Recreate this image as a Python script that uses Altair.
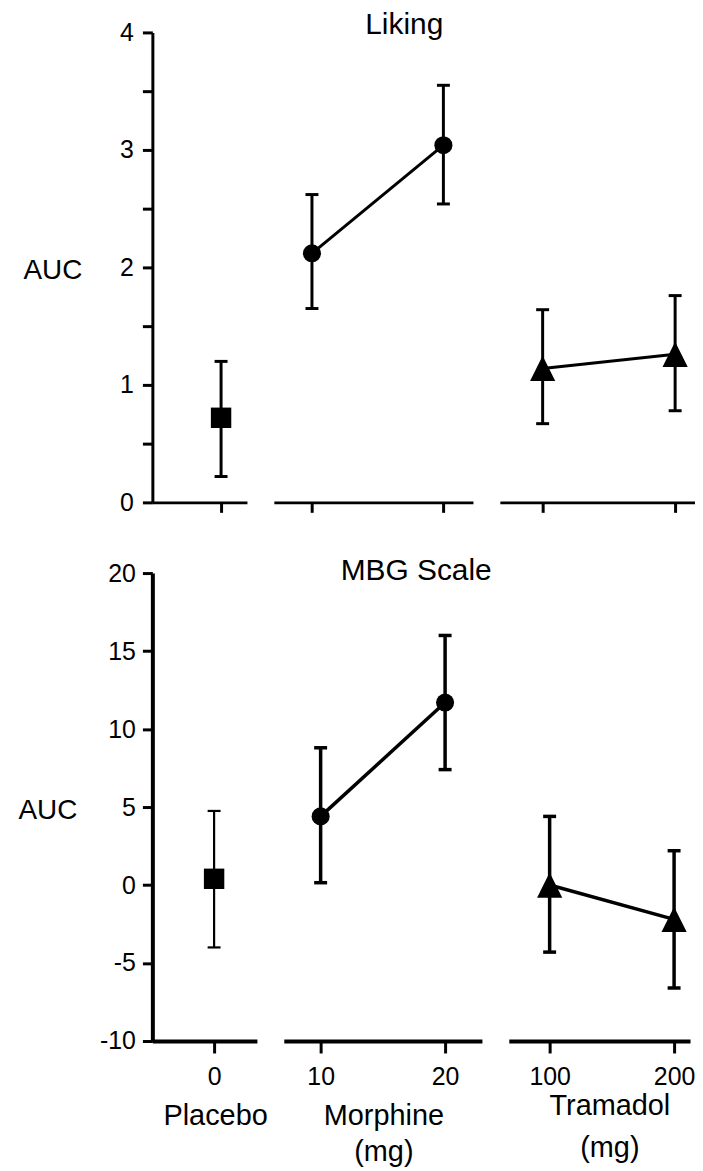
import altair as alt
import pandas as pd

# ---------------- data ----------------
groups = ["Placebo", "Morphine", "Morphine", "Tramadol", "Tramadol"]
doses = [0, 10, 20, 100, 200]

liking_mean = [0.72, 2.12, 3.04, 1.14, 1.26]
liking_lo = [0.22, 1.65, 2.54, 0.67, 0.78]
liking_hi = [1.20, 2.62, 3.55, 1.64, 1.76]

mbg_mean = [0.4, 4.4, 11.7, 0.0, -2.2]
mbg_lo = [-4.0, 0.15, 7.4, -4.3, -6.6]
mbg_hi = [4.75, 8.8, 16.0, 4.4, 2.2]

liking_ticks = [0, 0.5, 1, 1.5, 2, 2.5, 3, 3.5, 4]
mbg_ticks = [-10, -5, 0, 5, 10, 15, 20]

panel_titles = ["Liking", "MBG Scale"]
x_titles = {"Placebo": "Placebo", "Morphine": ["Morphine", "(mg)"], "Tramadol": ["Tramadol", "(mg)"]}

FONT = "Liberation Sans"
shapes = {"Placebo": "square", "Morphine": "circle", "Tramadol": "M0,-1L-1,1L1,1Z"}
sizes = {"Placebo": 420, "Morphine": 330, "Tramadol": 640}
group_order = ["Placebo", "Morphine", "Tramadol"]

INT_LABEL = ("datum.value % 1 === 0 ? (datum.value < 0 ? '-' + format(-datum.value, 'd') "
             ": format(datum.value, 'd')) : ''")


def make_df(mean, lo, hi):
    return pd.DataFrame({"group": groups, "dose": doses, "mean": mean, "lo": lo, "hi": hi})


rows = [
    dict(df=make_df(liking_mean, liking_lo, liking_hi), height=472, ydom=[0, 4], yvals=liking_ticks,
         widths=[95, 200, 196], xdoms=[[-0.69, 0.26], [7.1, 22.25], [67.7, 215]],
         stroke=3, line=3, xtick=10, ytick=10, ylab=25, ylabpad=9, titlex=-130, labels=False,
         title=panel_titles[0], tpos=(131, 2), barw=[3, 3, 3]),
    dict(df=make_df(mbg_mean, mbg_lo, mbg_hi), height=470, ydom=[-10, 20], yvals=mbg_ticks,
         widths=[105, 199, 182], xdoms=[[-0.62, 0.43], [7.04, 22.96], [67.2, 212.8]],
         stroke=4, line=3.5, xtick=12, ytick=10, ylab=25, ylabpad=7, titlex=-135, labels=True,
         title=panel_titles[1], tpos=(133, 7), barw=[2.2, 3.5, 3.5]),
]

xtitle_pos = {"Placebo": (63, 84, 36), "Morphine": (100, 84, 36), "Tramadol": (101, 74, 42)}


def panel(row, idx):
    group = group_order[idx]
    df = row["df"]
    sub = df[df.group == group]
    sw = row["stroke"]
    w = row["widths"][idx]

    axis_kw = dict(values=sub.dose.tolist(), domain=True, domainColor="black", domainWidth=sw,
                   ticks=True, tickColor="black", tickWidth=3, tickSize=row["xtick"],
                   labels=row["labels"], labelFont=FONT, labelFontSize=25, labelColor="black",
                   labelPadding=12, grid=False)
    if row["labels"]:
        tx, ty, lh = xtitle_pos[group]
        xaxis = alt.Axis(title=x_titles[group], titleFont=FONT, titleFontSize=29,
                         titleFontWeight="normal", titleColor="black", titleX=tx, titleY=ty,
                         titleAlign="center", titleBaseline="alphabetic", titleLineHeight=lh,
                         **axis_kw)
    else:
        xaxis = alt.Axis(title=None, **axis_kw)
    x = alt.X("dose:Q", scale=alt.Scale(domain=row["xdoms"][idx], nice=False, zero=False), axis=xaxis)

    yscale = alt.Scale(domain=row["ydom"], nice=False, zero=False)
    if idx == 0:
        yaxis = alt.Axis(values=row["yvals"], labelExpr=INT_LABEL, domain=True,
                         domainColor="black", domainWidth=sw, ticks=True, tickColor="black",
                         tickWidth=3, tickSize=row["ytick"], labelFont=FONT,
                         labelFontSize=row["ylab"], labelColor="black", labelPadding=row["ylabpad"],
                         grid=False, title="AUC", titleAngle=0, titleX=row["titlex"], titleY=247,
                         titleAlign="left", titleBaseline="alphabetic", titleFont=FONT,
                         titleFontSize=28, titleFontWeight="normal", titleColor="black")
    else:
        yaxis = None

    def y(field):
        return alt.Y(f"{field}:Q", scale=yscale, axis=yaxis, title="AUC")

    base = alt.Chart(sub).encode(x=x)
    bw = row["barw"][idx]
    layers = []
    if len(sub) > 1:
        layers.append(base.mark_line(color="black", strokeWidth=row["line"]).encode(y=y("mean")))
    layers.append(base.mark_rule(color="black", strokeWidth=bw).encode(y=y("lo"), y2="hi:Q"))
    layers.append(base.mark_tick(orient="horizontal", color="black", size=13, thickness=bw, opacity=1)
                  .encode(y=y("lo")))
    layers.append(base.mark_tick(orient="horizontal", color="black", size=13, thickness=bw, opacity=1)
                  .encode(y=y("hi")))
    layers.append(base.mark_point(shape=shapes[group], filled=True, size=sizes[group], color="black",
                                  opacity=1).encode(y=y("mean")))
    if idx == 1:
        tdf = pd.DataFrame({"t": [row["title"]]})
        layers.append(alt.Chart(tdf).mark_text(font=FONT, fontSize=30, align="center",
                                               baseline="alphabetic", color="black")
                      .encode(text="t:N", x=alt.value(row["tpos"][0]), y=alt.value(row["tpos"][1])))
    return alt.layer(*layers).properties(width=w, height=row["height"])


row_charts = []
for row in rows:
    hc = alt.hconcat(*[panel(row, i) for i in range(3)], spacing=27, bounds="flush")
    hc = hc.resolve_scale(x="independent", y="independent")
    row_charts.append(hc)

chart = alt.vconcat(*row_charts, spacing=41).resolve_scale(x="independent", y="independent")
chart = chart.properties(padding={"left": 10, "top": 0, "right": 0, "bottom": 0},
                         background="white")
chart = chart.configure_view(stroke=None)

chart.save("out.html", embed_options={"renderer": "svg", "actions": False})
